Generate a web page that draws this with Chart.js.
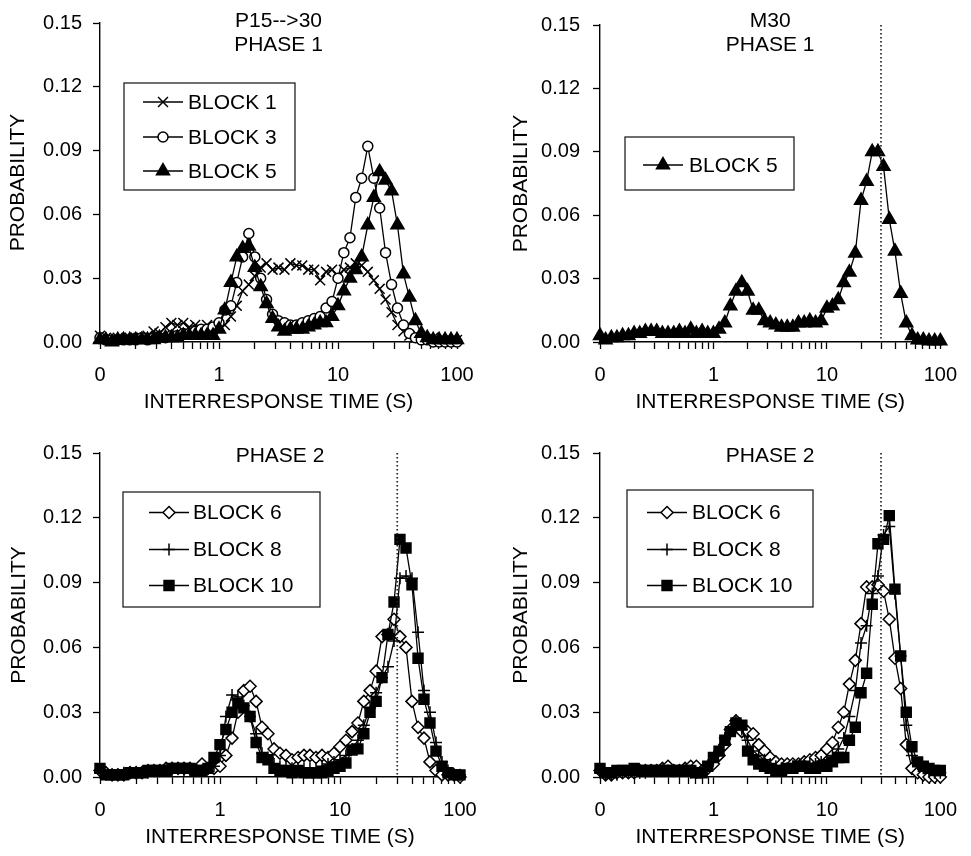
<!DOCTYPE html>
<html>
<head>
<meta charset="utf-8">
<script src="https://cdn.jsdelivr.net/npm/chart.js@4.4.1/dist/chart.umd.min.js"></script>
<style>
html, body { margin: 0; padding: 0; background: #fff; }
#wrap { position: relative; width: 971px; height: 856px; overflow: hidden; }
canvas { position: absolute; }
</style>
</head>
<body>
<div id="wrap">
  <canvas id="c1" width="500" height="425" style="left:0;top:0"></canvas>
  <canvas id="c2" width="471" height="425" style="left:500px;top:0"></canvas>
  <canvas id="c3" width="500" height="431" style="left:0;top:425px"></canvas>
  <canvas id="c4" width="471" height="431" style="left:500px;top:425px"></canvas>
</div>
<script>
// bin centres (s), 20 per decade
const binTimes = [0.1,0.112,0.126,0.141,0.158,0.178,0.2,0.224,0.251,0.282,
  0.316,0.355,0.398,0.447,0.501,0.562,0.631,0.708,0.794,0.891,
  1,1.12,1.26,1.41,1.58,1.78,2,2.24,2.51,2.82,
  3.16,3.55,3.98,4.47,5.01,5.62,6.31,7.08,7.94,8.91,
  10,11.2,12.6,14.1,15.8,17.8,20,22.4,25.1,28.2,
  31.6,35.5,39.8,44.7,50.1,56.2,63.1,70.8,79.4,89.1,
  100];

const xTickValues = [0.1,0.2,0.3,0.4,0.5,0.6,0.7,0.8,0.9,1,2,3,4,5,6,7,8,9,10,20,30,40,50,60,70,80,90,100];
const xMajorTicks = [0.1, 1, 10, 100];
const xMajorLabels = ['0', '1', '10', '100'];
const yTickValues = [0, 0.03, 0.06, 0.09, 0.12, 0.15];
const refTime = 30;

// P15-->30, phase 1
const p15Block1 = [0.003,0.002,0.001,0.002,0.001,0.002,0.002,0.002,0.003,0.005,
  0.004,0.007,0.009,0.008,0.009,0.007,0.008,0.006,0.008,0.006,
  0.007,0.008,0.012,0.017,0.024,0.027,0.031,0.035,0.037,0.034,
  0.035,0.034,0.037,0.036,0.036,0.034,0.034,0.029,0.033,0.034,
  0.031,0.034,0.035,0.037,0.036,0.033,0.029,0.025,0.020,0.014,
  0.008,0.005,0.003,0.002,0.002,0.001,0.002,0.001,0.001,0.001,
  0.001];
const p15Block3 = [0.002,0.001,0.001,0.001,0.001,0.001,0.001,0.002,0.001,0.002,
  0.002,0.002,0.003,0.003,0.004,0.004,0.005,0.006,0.006,0.007,
  0.009,0.015,0.017,0.028,0.040,0.051,0.040,0.030,0.020,0.013,
  0.010,0.009,0.008,0.008,0.009,0.010,0.011,0.012,0.016,0.019,
  0.030,0.042,0.049,0.068,0.077,0.092,0.077,0.063,0.042,0.027,
  0.016,0.008,0.004,0.002,0.001,0.001,0.000,0.000,0.000,0.000,
  0.000];
const p15Block5 = [0.001,0.001,0.000,0.001,0.001,0.001,0.001,0.001,0.001,0.001,
  0.002,0.002,0.002,0.002,0.003,0.003,0.003,0.003,0.003,0.003,
  0.006,0.015,0.028,0.040,0.044,0.045,0.035,0.026,0.018,0.011,
  0.007,0.005,0.006,0.006,0.006,0.007,0.008,0.009,0.009,0.012,
  0.017,0.024,0.030,0.034,0.040,0.055,0.068,0.080,0.076,0.071,
  0.055,0.032,0.021,0.010,0.004,0.002,0.001,0.001,0.001,0.001,
  0.001];

// M30, phase 1
const m30Block5 = [0.003,0.001,0.002,0.002,0.003,0.003,0.004,0.004,0.005,0.005,
  0.005,0.004,0.004,0.004,0.005,0.004,0.006,0.004,0.005,0.004,
  0.004,0.006,0.009,0.017,0.024,0.028,0.024,0.015,0.015,0.010,
  0.009,0.008,0.007,0.007,0.007,0.009,0.009,0.010,0.009,0.010,
  0.016,0.017,0.020,0.028,0.033,0.042,0.067,0.076,0.090,0.090,
  0.083,0.058,0.043,0.023,0.009,0.003,0.001,0.001,0.0005,0.0005,
  0.0005];

// P15-->30, phase 2
const p15Block6 = [0.003,0.002,0.001,0.001,0.001,0.002,0.002,0.002,0.003,0.003,
  0.003,0.004,0.004,0.004,0.004,0.004,0.003,0.006,0.004,0.004,
  0.005,0.010,0.018,0.030,0.040,0.042,0.035,0.023,0.020,0.013,
  0.011,0.010,0.008,0.009,0.010,0.010,0.009,0.010,0.009,0.011,
  0.014,0.017,0.021,0.025,0.035,0.040,0.049,0.065,0.066,0.073,
  0.065,0.060,0.035,0.023,0.018,0.007,0.003,0.001,0.001,0.001,
  0.000];
const p15Block8 = [0.002,0.001,0.001,0.001,0.002,0.002,0.002,0.002,0.002,0.003,
  0.003,0.003,0.003,0.004,0.003,0.003,0.003,0.003,0.004,0.005,
  0.010,0.028,0.038,0.037,0.033,0.028,0.020,0.011,0.009,0.006,
  0.005,0.005,0.004,0.004,0.004,0.004,0.004,0.005,0.006,0.007,
  0.008,0.010,0.013,0.017,0.024,0.032,0.039,0.046,0.051,0.063,
  0.092,0.093,0.092,0.067,0.040,0.030,0.016,0.007,0.003,0.001,
  0.001];
const p15Block10 = [0.004,0.001,0.001,0.001,0.001,0.002,0.002,0.002,0.003,0.003,
  0.003,0.003,0.004,0.004,0.004,0.004,0.003,0.003,0.004,0.009,
  0.015,0.022,0.030,0.034,0.032,0.028,0.016,0.009,0.008,0.004,
  0.003,0.003,0.002,0.003,0.002,0.002,0.002,0.002,0.003,0.004,
  0.005,0.0065,0.0125,0.013,0.020,0.030,0.035,0.046,0.066,0.081,
  0.110,0.106,0.089,0.055,0.036,0.025,0.012,0.005,0.002,0.001,
  0.001];

// M30, phase 2
const m30Block6 = [0.003,0.001,0.001,0.002,0.002,0.002,0.002,0.003,0.003,0.003,
  0.003,0.004,0.005,0.003,0.003,0.004,0.005,0.005,0.003,0.004,
  0.006,0.010,0.015,0.022,0.026,0.021,0.021,0.020,0.015,0.012,
  0.009,0.007,0.006,0.006,0.006,0.006,0.007,0.008,0.009,0.010,
  0.013,0.016,0.023,0.030,0.043,0.054,0.071,0.088,0.088,0.089,
  0.086,0.073,0.055,0.041,0.015,0.004,0.002,0.001,0.000,0.000,
  0.000];
const m30Block8 = [0.002,0.001,0.001,0.001,0.002,0.002,0.002,0.002,0.002,0.003,
  0.003,0.003,0.003,0.003,0.003,0.003,0.002,0.002,0.003,0.005,
  0.008,0.012,0.018,0.020,0.026,0.022,0.017,0.012,0.010,0.008,
  0.006,0.005,0.004,0.004,0.005,0.005,0.005,0.006,0.006,0.007,
  0.008,0.010,0.013,0.018,0.028,0.040,0.062,0.070,0.085,0.093,
  0.112,0.116,0.085,0.056,0.024,0.010,0.006,0.004,0.003,0.002,
  0.002];
const m30Block10 = [0.004,0.002,0.002,0.003,0.003,0.003,0.004,0.003,0.003,0.003,
  0.003,0.003,0.003,0.003,0.003,0.003,0.003,0.002,0.002,0.005,
  0.009,0.012,0.017,0.021,0.025,0.024,0.012,0.008,0.006,0.005,
  0.004,0.003,0.003,0.004,0.004,0.005,0.005,0.004,0.004,0.005,
  0.005,0.007,0.009,0.009,0.017,0.023,0.039,0.048,0.080,0.108,
  0.110,0.121,0.087,0.056,0.030,0.014,0.007,0.005,0.004,0.003,
  0.003];

const FONT = '"Liberation Sans", Arial, Helvetica, sans-serif';
const INK = '#000';

// marker look per block
const markerStyle = {
  'BLOCK 1':  { pointStyle: 'crossRot', radius: 7,   fill: '#000' },
  'BLOCK 3':  { pointStyle: 'circle',   radius: 5,   fill: '#fff' },
  'BLOCK 5':  { pointStyle: 'triangle', radius: 7.5, fill: '#000' },
  'BLOCK 6':  { pointStyle: 'rectRot',  radius: 6,   fill: '#fff' },
  'BLOCK 8':  { pointStyle: 'cross',    radius: 6,   fill: '#000' },
  'BLOCK 10': { pointStyle: 'rect',     radius: 7,   fill: '#000' }
};

function series(label, values, order) {
  const m = markerStyle[label];
  return {
    label: label,
    data: values.map((v, i) => ({ x: binTimes[i], y: v })),
    borderColor: '#000',
    borderWidth: 1.3,
    pointStyle: m.pointStyle,
    pointRadius: m.radius,
    pointBackgroundColor: m.fill,
    pointBorderColor: '#000',
    pointBorderWidth: 1.5,
    tension: 0,
    fill: false,
    clip: false,
    order: order
  };
}

// titles, legend box, 30-s reference line
const panelDeco = {
  id: 'panelDeco',
  afterDatasetsDraw(chart, args, opts) {
    const ctx = chart.ctx;
    const area = chart.chartArea;
    ctx.save();
    if (opts.refLine) {
      const x = chart.scales.x.getPixelForValue(opts.refLine);
      ctx.strokeStyle = '#222';
      ctx.lineWidth = 1.7;
      ctx.setLineDash([1.5, 2.5]);
      ctx.beginPath();
      ctx.moveTo(x, area.top);
      ctx.lineTo(x, area.bottom);
      ctx.stroke();
      ctx.setLineDash([]);
    }
    ctx.fillStyle = INK;
    ctx.font = '21px ' + FONT;
    ctx.textAlign = 'center';
    ctx.textBaseline = 'middle';
    const cx = (area.left + area.right) / 2;
    opts.title.forEach((t, i) => ctx.fillText(t, cx, opts.titleY + i * 24.5));

    const L = opts.legend;
    ctx.fillStyle = '#fff';
    ctx.fillRect(L.x, L.y, L.w, L.h);
    ctx.strokeStyle = '#222';
    ctx.lineWidth = 1.3;
    ctx.strokeRect(L.x, L.y, L.w, L.h);
    chart.data.datasets.forEach((ds, i) => {
      const y = L.rows[i];
      ctx.strokeStyle = '#000';
      ctx.lineWidth = 1.3;
      ctx.beginPath();
      ctx.moveTo(L.lineX, y);
      ctx.lineTo(L.lineX + 40, y);
      ctx.stroke();
      ctx.fillStyle = ds.pointBackgroundColor;
      ctx.lineWidth = 1.5;
      Chart.helpers.drawPoint(ctx, {
        pointStyle: ds.pointStyle, radius: ds.pointRadius, rotation: 0, borderWidth: 1.5
      }, L.lineX + 20, y);
      ctx.fillStyle = INK;
      ctx.font = '21px ' + FONT;
      ctx.textAlign = 'left';
      ctx.textBaseline = 'middle';
      ctx.fillText(ds.label, L.textX, y + 1);
    });
    ctx.restore();
  }
};

function makePanel(id, datasets, p) {
  new Chart(document.getElementById(id), {
    type: 'line',
    data: { datasets: datasets },
    plugins: [panelDeco],
    options: {
      responsive: false,
      animation: false,
      layout: { padding: p.pad },
      plugins: {
        legend: { display: false },
        tooltip: { enabled: false },
        panelDeco: { title: p.title, titleY: p.titleY, legend: p.legend, refLine: p.refLine }
      },
      scales: {
        x: {
          type: 'logarithmic',
          min: 0.1,
          max: 100,
          afterBuildTicks: s => { s.ticks = xTickValues.map(v => ({ value: v })); },
          afterFit: s => { s.height = 73; },
          border: { display: true, color: '#000', width: 1.4 },
          grid: { drawOnChartArea: false, drawTicks: true, tickLength: 7, tickColor: '#000', tickWidth: 1.3 },
          ticks: {
            autoSkip: false,
            maxRotation: 0,
            padding: 14,
            color: INK,
            font: { family: FONT, size: 20 },
            callback: v => {
              const k = xMajorTicks.indexOf(v);
              return k < 0 ? '' : xMajorLabels[k];
            }
          },
          title: { display: true, text: 'INTERRESPONSE TIME (S)', color: INK, padding: 0, font: { family: FONT, size: 21 } }
        },
        y: {
          min: 0,
          max: 0.15,
          afterBuildTicks: s => { s.ticks = yTickValues.map(v => ({ value: v })); },
          afterFit: s => { s.width = 100; },
          border: { display: true, color: '#000', width: 1.4 },
          grid: { drawOnChartArea: false, drawTicks: true, tickLength: 7, tickColor: '#000', tickWidth: 1.3 },
          ticks: {
            padding: p.yPad,
            color: INK,
            font: { family: FONT, size: 20 },
            callback: v => v.toFixed(2)
          },
          title: { display: true, text: 'PROBABILITY', color: INK, padding: { top: p.yTitlePad, bottom: 0 }, font: { family: FONT, size: 21 } }
        }
      }
    }
  });
}

makePanel('c1', [
  series('BLOCK 1', p15Block1, 2),
  series('BLOCK 3', p15Block3, 1),
  series('BLOCK 5', p15Block5, 0)
], {
  pad: { left: 0, right: 43, top: 22, bottom: 10 }, yPad: 11, yTitlePad: 6,
  title: ['P15-->30', 'PHASE 1'], titleY: 21, 
  legend: { x: 124, y: 83, w: 171, h: 107, rows: [102, 137, 171], lineX: 143, textX: 188 }
});

makePanel('c2', [
  series('BLOCK 5', m30Block5, 0)
], {
  pad: { left: 0, right: 21, top: 17, bottom: 10 }, yPad: 13, yTitlePad: 9,
  title: ['M30', 'PHASE 1'], titleY: 21, refLine: refTime,
  legend: { x: 125, y: 137, w: 169, h: 53, rows: [165], lineX: 143, textX: 189 }
});

makePanel('c3', [
  series('BLOCK 6', p15Block6, 2),
  series('BLOCK 8', p15Block8, 1),
  series('BLOCK 10', p15Block10, 0)
], {
  pad: { left: 0, right: 40, top: 28, bottom: 6 }, yPad: 11, yTitlePad: 7,
  title: ['PHASE 2'], titleY: 31, refLine: refTime,
  legend: { x: 123, y: 67, w: 197, h: 115, rows: [87.5, 124.5, 160.5], lineX: 149, textX: 193 }
});

makePanel('c4', [
  series('BLOCK 6', m30Block6, 2),
  series('BLOCK 8', m30Block8, 1),
  series('BLOCK 10', m30Block10, 0)
], {
  pad: { left: 0, right: 21, top: 28, bottom: 6 }, yPad: 13, yTitlePad: 9,
  title: ['PHASE 2'], titleY: 31, refLine: refTime,
  legend: { x: 127, y: 65, w: 186, h: 117, rows: [87.5, 124.5, 160.5], lineX: 147, textX: 192 }
});
</script>
</body>
</html>
